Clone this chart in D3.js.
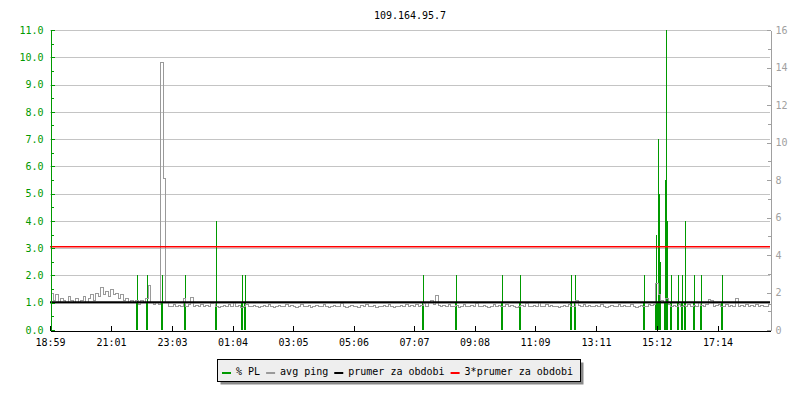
<!DOCTYPE html>
<html><head><meta charset="utf-8">
<script src="https://cdn.jsdelivr.net/npm/d3@7"></script>
<style>
body{margin:0;background:#fff}
svg{display:block}
text{font-family:"DejaVu Sans Mono",monospace;font-size:10px}
</style>
</head><body>
<svg id="chart" width="800" height="400"></svg>
<script>
// ---------------- data ----------------
const title = "109.164.95.7";
const startTime = "18:59";
const spanHours = 24;
const xTickLabels = ["18:59","21:01","23:03","01:04","03:05","05:06","07:07","09:08","11:09","13:11","15:12","17:14"];
const leftTicks = [0,1,2,3,4,5,6,7,8,9,10,11];
const leftMinorTicks = [0.5,1.5,2.5,3.5,4.5,5.5,6.5,7.5,8.5,9.5,10.5];
const rightTicks = [0,2,4,6,8,10,12,14,16];
const rightMinorTicks = [1,3,5,7,9,11,13,15];

// packet loss events (% PL, left axis)
const lossTimes  = ["21:52","22:13","22:43","23:29","00:30","01:23","01:29","07:25","08:30","10:02","10:39","12:20","12:29","14:47","15:11","15:14","15:16","15:18","15:28","15:30","15:32","15:40","15:54","16:03","16:09","16:26","16:41","17:22"];
const lossValues = [2.0,2.0,2.0,2.0,4.0,2.0,2.0,2.0,2.0,2.0,2.0,2.0,2.0,2.0,3.5,7.0,5.0,2.5,5.5,11.0,4.0,2.0,2.0,2.0,4.0,2.0,2.0,2.0];

// avg ping, one value every 5 minutes from 18:59 (right axis)
const pingStepMinutes = 5;
const pingValues = [
 2.0,1.6,1.9,1.5,1.7,1.6,1.5,1.8,1.6,1.5,1.7,1.5,
 1.6,1.8,1.5,1.7,1.9,1.6,2.0,1.8,2.3,1.9,2.1,1.8,
 2.2,1.9,2.0,1.7,1.9,1.6,1.7,1.5,1.6,1.5,1.6,1.4,
 1.6,1.5,1.7,2.4,1.5,1.4,1.5,1.4,14.3,8.1,1.5,1.3,
 1.3,1.4,1.3,1.35,1.3,1.7,1.3,1.4,1.75,1.3,1.35,1.3,
 1.4,1.3,1.35,1.3,1.45,1.5,1.3,1.25,1.3,1.35,1.3,1.4,
 1.3,1.5,1.3,1.35,1.25,1.3,1.4,1.3,1.3,1.35,1.3,1.25,
 1.3,1.35,1.3,1.4,1.3,1.25,1.3,1.35,1.3,1.3,1.4,1.3,
 1.35,1.3,1.25,1.3,1.4,1.3,1.3,1.35,1.25,1.3,1.35,1.3,
 1.3,1.4,1.3,1.25,1.3,1.35,1.3,1.3,1.45,1.3,1.25,1.3,
 1.35,1.3,1.3,1.25,1.35,1.3,1.4,1.3,1.3,1.35,1.25,1.3,
 1.3,1.35,1.3,1.4,1.3,1.25,1.3,1.3,1.35,1.3,1.4,1.3,
 1.35,1.3,1.4,1.3,1.35,1.45,1.3,1.5,1.6,1.4,1.85,1.35,
 1.3,1.35,1.3,1.4,1.3,1.3,1.35,1.25,1.3,1.4,1.3,1.3,
 1.35,1.3,1.45,1.3,1.3,1.35,1.3,1.25,1.3,1.4,1.3,1.35,
 1.3,1.3,1.4,1.3,1.35,1.3,1.25,1.3,1.35,1.3,1.45,1.3,
 1.3,1.35,1.3,1.5,1.3,1.3,1.4,1.3,1.35,1.3,1.3,1.25,
 1.3,1.35,1.3,1.4,1.3,1.3,1.6,1.35,1.3,1.4,1.3,1.35,
 1.3,1.3,1.35,1.3,1.4,1.3,1.25,1.3,1.35,1.3,1.3,1.4,
 1.3,1.35,1.3,1.3,1.4,1.3,1.25,1.3,1.35,1.3,1.3,1.4,
 1.35,1.4,2.5,1.9,1.6,1.5,1.7,1.4,1.3,1.35,1.3,1.4,
 1.3,1.35,1.3,1.4,1.3,1.35,1.3,1.5,1.35,1.3,1.4,1.65,
 1.6,1.3,1.35,1.4,1.3,1.3,1.4,1.3,1.35,1.3,1.72,1.3,
 1.35,1.3,1.4,1.3,1.35,1.3,1.4,1.3,1.35,1.3,1.3,1.4
];
const pingAverage = 1.48;   // "prumer za obdobi"
const averageFactor = 3;    // "3*prumer za obdobi"

const legendLabels = ["% PL","avg ping","prumer za obdobi","3*prumer za obdobi"];
const colors = {pl:"#009900", ping:"#9a9a9a", avg:"#000000", avg3:"#ff0000", grid:"#c4c4c4", rightAxis:"#a0a0a0"};
const legendColors = [colors.pl, colors.ping, colors.avg, colors.avg3];

// ---------------- layout ----------------
const plotLeft = 50, plotRight = 770, plotTop = 30, plotBottom = 330;
const svg = d3.select("#chart");

const [sh, sm] = startTime.split(":").map(Number);
const start = new Date(2000, 0, 1, sh, sm);
const end = new Date(+start + spanHours * 3600e3);
function toDate(s){
  const [h, m] = s.split(":").map(Number);
  let d = new Date(2000, 0, 1, h, m);
  if (d < start) d = new Date(+d + 24 * 3600e3);
  return d;
}

const x = d3.scaleTime().domain([start, end]).range([plotLeft, plotRight]);
const yL = d3.scaleLinear().domain([0, 11]).range([plotBottom, plotTop]);
const yR = d3.scaleLinear().domain([0, 16]).range([plotBottom, plotTop]);

// gridlines
svg.append("g").selectAll("line").data(leftTicks.filter(d => d > 0)).join("line")
  .attr("x1", plotLeft).attr("x2", plotRight)
  .attr("y1", d => Math.round(yL(d)) + 0.5).attr("y2", d => Math.round(yL(d)) + 0.5)
  .attr("stroke", colors.grid).attr("stroke-width", 1).attr("shape-rendering","crispEdges");

// title
svg.append("text").attr("x", (plotLeft + plotRight) / 2).attr("y", 19).attr("text-anchor","middle")
  .attr("fill","#000").text(title);

// packet loss bars
const loss = lossTimes.map((t, i) => ({t: toDate(t), v: lossValues[i]}));
const gPL = svg.append("g").attr("shape-rendering","crispEdges");
gPL.selectAll("rect.thick").data(loss).join("rect").attr("class","thick")
  .attr("x", d => Math.round(x(d.t)) - 1).attr("width", 2)
  .attr("y", yR(pingAverage)).attr("height", plotBottom - yR(pingAverage))
  .attr("fill", colors.pl);
gPL.selectAll("rect.thin").data(loss).join("rect").attr("class","thin")
  .attr("x", d => Math.round(x(d.t))).attr("width", 1)
  .attr("y", d => yL(d.v)).attr("height", d => plotBottom - yL(d.v))
  .attr("fill", colors.pl);

// ping line
const ping = pingValues.map((v, i) => ({t: new Date(+start + i * pingStepMinutes * 60e3), v}));
ping.push({t: end, v: pingValues[pingValues.length - 1]});
svg.append("path").datum(ping)
  .attr("d", d3.line().x(d => Math.round(x(d.t)) + 0.5).y(d => Math.round(yR(d.v)) + 0.5).curve(d3.curveStepAfter))
  .attr("fill","none").attr("stroke", colors.ping).attr("stroke-width", 1)
  .attr("shape-rendering","crispEdges");

// average lines
svg.append("line").attr("x1", plotLeft).attr("x2", plotRight)
  .attr("y1", yR(pingAverage)).attr("y2", yR(pingAverage))
  .attr("stroke", colors.avg).attr("stroke-width", 2.2);
svg.append("line").attr("x1", plotLeft).attr("x2", plotRight)
  .attr("y1", yR(pingAverage * averageFactor)).attr("y2", yR(pingAverage * averageFactor))
  .attr("stroke", colors.avg3).attr("stroke-width", 1.5);

// left axis (green)
const gL = svg.append("g").attr("transform", `translate(${plotLeft + 0.5},0)`);
gL.call(d3.axisLeft(yL).tickValues(leftTicks).tickFormat(d3.format(".1f")).tickSizeInner(-4).tickSizeOuter(0).tickPadding(7));
gL.append("g").call(d3.axisLeft(yL).tickValues(leftMinorTicks).tickFormat("").tickSizeInner(-3).tickSizeOuter(0))
  .select(".domain").remove();
gL.selectAll("path,line").attr("stroke", colors.pl).attr("shape-rendering","crispEdges");
gL.selectAll("text").attr("fill", colors.pl).attr("font-family",'"DejaVu Sans Mono",monospace').attr("font-size", 10);

// right axis (gray)
const gR = svg.append("g").attr("transform", `translate(${plotRight + 0.5},0)`);
gR.call(d3.axisRight(yR).tickValues(rightTicks).tickFormat(d3.format("d")).tickSizeInner(-4).tickSizeOuter(0).tickPadding(5));
gR.append("g").call(d3.axisRight(yR).tickValues(rightMinorTicks).tickFormat("").tickSizeInner(-3).tickSizeOuter(0))
  .select(".domain").remove();
gR.selectAll("path,line").attr("stroke", colors.rightAxis).attr("shape-rendering","crispEdges");
gR.selectAll("text").attr("fill", colors.rightAxis).attr("font-family",'"DejaVu Sans Mono",monospace').attr("font-size", 10);

// bottom axis
const gB = svg.append("g").attr("transform", `translate(0,${plotBottom + 0.5})`);
gB.call(d3.axisBottom(x).tickValues(xTickLabels.map(toDate)).tickFormat(d3.timeFormat("%H:%M")).tickSizeInner(-5).tickSizeOuter(0).tickPadding(8));
gB.selectAll("path,line").attr("stroke", "#000").attr("shape-rendering","crispEdges");
gB.selectAll("text").attr("fill", "#000").attr("font-family",'"DejaVu Sans Mono",monospace').attr("font-size", 10);

// legend
const lg = svg.append("g");
const boxX = 217.5, boxY = 359.5, boxW = 363, boxH = 22;
lg.append("rect").attr("x", boxX + 3).attr("y", boxY + 3).attr("width", boxW).attr("height", boxH).attr("fill", "#8a8a8a");
lg.append("rect").attr("x", boxX).attr("y", boxY).attr("width", boxW).attr("height", boxH)
  .attr("fill", "#eeeeee").attr("stroke", "#000").attr("stroke-width", 1);
let cx = 222;
legendLabels.forEach((lab, i) => {
  lg.append("rect").attr("x", cx).attr("y", 372).attr("width", 9).attr("height", 2).attr("fill", legendColors[i]);
  const t = lg.append("text").attr("x", cx + 14).attr("y", 374.5).attr("fill", "#000").text(lab);
  cx = cx + 14 + t.node().getComputedTextLength() + 6;
});
</script>
</body></html>
